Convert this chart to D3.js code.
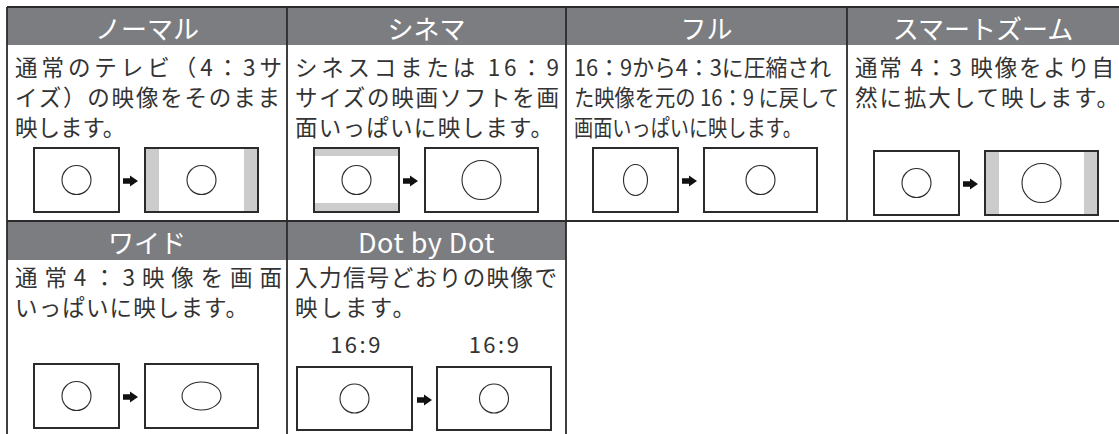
<!DOCTYPE html>
<html><head><meta charset="utf-8">
<script src="https://cdn.jsdelivr.net/npm/d3@7"></script>
<style>
html,body{margin:0;padding:0;background:#fff;}
svg{display:block;}
</style></head>
<body>
<svg id="c" width="1119" height="434"></svg>
<script>
// ---------- data ----------
const modes = ["ノーマル", "シネマ", "フル", "スマートズーム", "ワイド", "Dot by Dot"];
const descriptions = [
  ["通常のテレビ（4：3サ", "イズ）の映像をそのまま", "映します。"],
  ["シネスコまたは 16：9", "サイズの映画ソフトを画", "面いっぱいに映します。"],
  ["16：9から4：3に圧縮され", "た映像を元の 16：9 に戻して", "画面いっぱいに映します。"],
  ["通常 4：3 映像をより自", "然に拡大して映します。"],
  ["通常4：3映像を画面", "いっぱいに映します。"],
  ["入力信号どおりの映像で", "映します。"]
];
const sourceBars = ["none", "topbottom", "none", "none", "none", "none"];
const targetBars = ["sides", "none", "none", "sides", "none", "none"];
const sourceShapes = ["circle", "circle", "tall", "circle", "circle", "circle"];
const targetShapes = ["circle", "big", "circle", "big", "wide", "circle"];
const aspectLabels = [null, null, null, null, null, ["16:9", "16:9"]];

// ---------- layout ----------
const W = 1119, H = 434;
const colEdges = [7, 287, 566, 847, 1119];
const rowTops = [7, 221];
const headerH = [38, 39];
const textStart = [65.5, 275.5];
const lineGap = 30;
const lineWidths = [[267, 265, null], [264, 264, 258], [257, 265, 228], [259, 264], [267, 233], [262, 120]];
const textDx = 8;
const boxDy = [141, 141, 141, 144, 143, 146];
const boxH = 64;
const shapeSize = {circle: [14.5, 14.5], big: [19.5, 19.5], tall: [12, 15.5], wide: [19.5, 14]};
const dark = "#2b2b2b", textCol = "#333", headCol = "#7c7d81", barCol = "#cccccc";

const svg = d3.select("#c");
const cells = modes.map((m, i) => {
  const row = i < 4 ? 0 : 1, col = i < 4 ? i : i - 4;
  return {i, row, col, x0: colEdges[col], x1: colEdges[col + 1], y0: rowTops[row]};
});

// headers
svg.selectAll("rect.head").data(cells).join("rect")
  .attr("x", c => c.x0).attr("y", c => c.y0)
  .attr("width", c => c.x1 - c.x0).attr("height", c => headerH[c.row])
  .attr("fill", headCol);
svg.selectAll("text.head").data(cells).join("text")
  .attr("class", "head")
  .attr("x", c => (c.x0 + c.x1) / 2).attr("y", c => c.y0 + headerH[c.row] / 2 + 1)
  .attr("text-anchor", "middle").attr("dominant-baseline", "central")
  .attr("fill", "#fff")
  .style("font-family", "'Noto Sans CJK JP','Noto Sans',sans-serif")
  .style("font-size", c => c.i === 5 ? "27px" : "26px").style("font-weight", 400)
  .style("letter-spacing", c => c.i === 5 ? "0.5px" : "0px")
  .text((c, k) => modes[k]);

// description text
const lines = [];
cells.forEach(c => descriptions[c.i].forEach((t, k) => lines.push({c, t, k, w: lineWidths[c.i][k]})));
const tx = svg.selectAll("text.desc").data(lines).join("text")
  .attr("class", "desc")
  .attr("x", d => d.c.x0 + textDx)
  .attr("y", d => textStart[d.c.row] + d.k * lineGap)
  .attr("dominant-baseline", "central")
  .attr("fill", textCol)
  .style("font-family", "'Noto Sans CJK JP',sans-serif")
  .style("font-size", "22.5px")
  .text(d => d.t);
tx.each(function(d) {
  if (d.w == null) return;
  const nat = this.getComputedTextLength();
  d3.select(this).attr("textLength", d.w)
    .attr("lengthAdjust", d.w < nat ? "spacingAndGlyphs" : "spacing");
});

// screen diagrams
function boxGeom(c, which) {
  if (c.i === 5) return which === 0 ? {dx: 10, w: 115} : {dx: 150, w: 114};
  return which === 0 ? {dx: 27, w: 85} : {dx: 138, w: 113};
}
const screens = [];
cells.forEach(c => {
  [0, 1].forEach(which => {
    const g = boxGeom(c, which);
    screens.push({
      c, which,
      x: c.x0 + g.dx, y: c.y0 + boxDy[c.i], w: g.w, h: c.i === 5 ? 63 : boxH,
      bars: which === 0 ? sourceBars[c.i] : targetBars[c.i],
      shape: which === 0 ? sourceShapes[c.i] : targetShapes[c.i]
    });
  });
});
const sg = svg.selectAll("g.screen").data(screens).join("g").attr("class", "screen");
sg.filter(d => d.bars === "sides").each(function(d) {
  const g = d3.select(this);
  g.append("rect").attr("x", d.x).attr("y", d.y).attr("width", 14).attr("height", d.h).attr("fill", barCol);
  g.append("rect").attr("x", d.x + d.w - 14).attr("y", d.y).attr("width", 14).attr("height", d.h).attr("fill", barCol);
});
sg.filter(d => d.bars === "topbottom").each(function(d) {
  const g = d3.select(this);
  g.append("rect").attr("x", d.x).attr("y", d.y).attr("width", d.w).attr("height", 8).attr("fill", barCol);
  g.append("rect").attr("x", d.x).attr("y", d.y + d.h - 9).attr("width", d.w).attr("height", 9).attr("fill", barCol);
});
sg.append("rect")
  .attr("x", d => d.x).attr("y", d => d.y).attr("width", d => d.w).attr("height", d => d.h)
  .attr("fill", "none").attr("stroke", dark).attr("stroke-width", 2);
sg.append("ellipse")
  .attr("cx", d => d.x + d.w / 2).attr("cy", d => d.y + d.h / 2)
  .attr("rx", d => shapeSize[d.shape][0]).attr("ry", d => shapeSize[d.shape][1])
  .attr("fill", "none").attr("stroke", dark).attr("stroke-width", 1.1);

// arrows
const arrowPath = "M0,-2.8 L7,-2.8 L7,-5.5 L15,0 L7,5.5 L7,2.8 L0,2.8 Z";
svg.selectAll("path.arrow").data(cells).join("path")
  .attr("class", "arrow")
  .attr("transform", c => {
    const ax = c.i === 5 ? c.x0 + 130 : c.x0 + 116;
    return `translate(${ax},${c.y0 + boxDy[c.i] + boxH / 2 + 1})`;
  })
  .attr("d", arrowPath).attr("fill", "#111");

// aspect labels
const labs = [];
cells.forEach(c => { if (aspectLabels[c.i]) aspectLabels[c.i].forEach((t, k) => {
  const g = boxGeom(c, k); labs.push({t, x: c.x0 + g.dx + g.w / 2 + (k === 0 ? 2 : 1), y: c.y0 + 122});
}); });
svg.selectAll("text.lab").data(labs).join("text")
  .attr("x", d => d.x).attr("y", d => d.y)
  .attr("text-anchor", "middle").attr("dominant-baseline", "central")
  .attr("fill", textCol)
  .style("font-family", "'Noto Sans CJK JP',sans-serif").style("font-size", "22px")
  .style("letter-spacing", "2.5px")
  .text(d => d.t);

// grid lines
const gridLines = [
  [colEdges[0], rowTops[0], W, rowTops[0]],
  [colEdges[0], rowTops[1], W, rowTops[1]],
  [colEdges[0], rowTops[0], colEdges[0], H],
  [colEdges[1], rowTops[0], colEdges[1], H],
  [colEdges[2], rowTops[0], colEdges[2], H],
  [colEdges[3], rowTops[0], colEdges[3], rowTops[1]]
];
svg.selectAll("line.grid").data(gridLines).join("line")
  .attr("x1", d => d[0]).attr("y1", d => d[1]).attr("x2", d => d[2]).attr("y2", d => d[3])
  .attr("stroke", dark).attr("stroke-width", 1.8);
</script>
</body></html>
